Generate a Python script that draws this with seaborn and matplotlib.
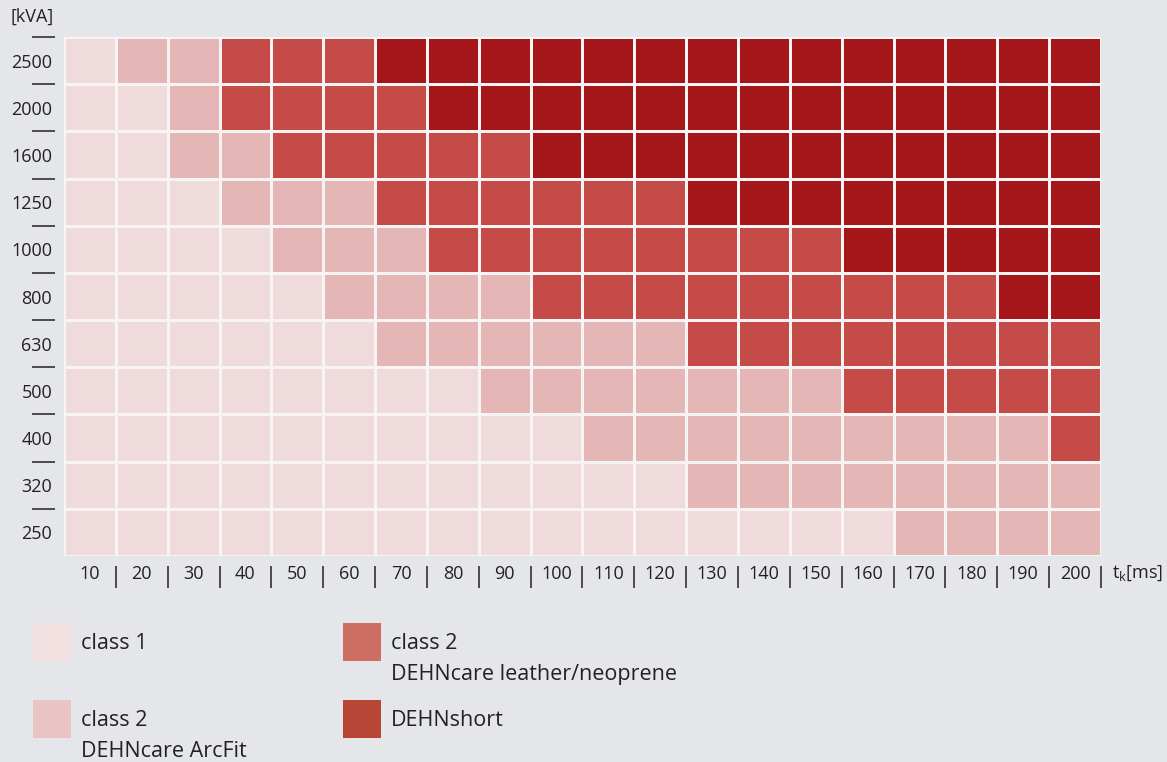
import numpy as np
import pandas as pd
import matplotlib
matplotlib.use("Agg")
import matplotlib.pyplot as plt
from matplotlib.colors import ListedColormap
from matplotlib.patches import Rectangle
import seaborn as sns

# time in ms (columns) and transformer power in kVA (rows, top to bottom)
times = [10, 20, 30, 40, 50, 60, 70, 80, 90, 100,
         110, 120, 130, 140, 150, 160, 170, 180, 190, 200]
power = ["2500", "2000", "1600", "1250", "1000", "800", "630", "500", "400", "320", "250"]

# 0 = class 1, 1 = class 2 ArcFit, 2 = class 2 leather/neoprene, 3 = DEHNshort
r2500 = [0, 1, 1, 2, 2, 2, 3, 3, 3, 3, 3, 3, 3, 3, 3, 3, 3, 3, 3, 3]
r2000 = [0, 0, 1, 2, 2, 2, 2, 3, 3, 3, 3, 3, 3, 3, 3, 3, 3, 3, 3, 3]
r1600 = [0, 0, 1, 1, 2, 2, 2, 2, 2, 3, 3, 3, 3, 3, 3, 3, 3, 3, 3, 3]
r1250 = [0, 0, 0, 1, 1, 1, 2, 2, 2, 2, 2, 2, 3, 3, 3, 3, 3, 3, 3, 3]
r1000 = [0, 0, 0, 0, 1, 1, 1, 2, 2, 2, 2, 2, 2, 2, 2, 3, 3, 3, 3, 3]
r800 = [0, 0, 0, 0, 0, 1, 1, 1, 1, 2, 2, 2, 2, 2, 2, 2, 2, 2, 3, 3]
r630 = [0, 0, 0, 0, 0, 0, 1, 1, 1, 1, 1, 1, 2, 2, 2, 2, 2, 2, 2, 2]
r500 = [0, 0, 0, 0, 0, 0, 0, 0, 1, 1, 1, 1, 1, 1, 1, 2, 2, 2, 2, 2]
r400 = [0, 0, 0, 0, 0, 0, 0, 0, 0, 0, 1, 1, 1, 1, 1, 1, 1, 1, 1, 2]
r320 = [0, 0, 0, 0, 0, 0, 0, 0, 0, 0, 0, 0, 1, 1, 1, 1, 1, 1, 1, 1]
r250 = [0, 0, 0, 0, 0, 0, 0, 0, 0, 0, 0, 0, 0, 0, 0, 0, 1, 1, 1, 1]

classes = ["class 1", "class 2\nDEHNcare ArcFit",
           "class 2\nDEHNcare leather/neoprene", "DEHNshort"]
cell_colors = ["#f0dbdc", "#e4b6b6", "#c44b48", "#a5161b"]
legend_colors = ["#f2dfe0", "#eac4c5", "#cc6e62", "#b84536"]

df = pd.DataFrame([r2500, r2000, r1600, r1250, r1000, r800, r630, r500, r400, r320, r250],
                  index=power, columns=times)

bg = "#e5e6ea"
ink = "#222222"
plt.rcParams['font.family'] = ['Open Sans', 'DejaVu Sans']

fig = plt.figure(figsize=(11.67, 7.62), dpi=100, facecolor=bg)
ax = fig.add_axes([0.0548, 0.2703, 0.8886, 0.6811])
ax.set_facecolor(bg)

sns.heatmap(df, ax=ax, cmap=ListedColormap(cell_colors), vmin=-0.5, vmax=3.5,
            cbar=False, linewidths=1.0, linecolor="#f8f4f4")

# labels at cell centres, dashes/bars on the cell borders
ax.set_xticks(np.arange(len(times)) + 0.5)
ax.set_xticklabels([str(t) for t in times])
ax.set_xticks(np.arange(1, len(times) + 1), minor=True)
ax.set_yticks(np.arange(len(power)) + 0.5)
ax.set_yticklabels(power, rotation=0)
ax.set_yticks(np.arange(0, len(power)), minor=True)

for sp in ax.spines.values():
    sp.set_visible(False)
ax.spines['left'].set_position(('outward', 6.5))
ax.spines['bottom'].set_position(('outward', 7))

ax.tick_params(axis='both', which='major', length=0, labelsize=13, labelcolor=ink)
ax.tick_params(axis='y', which='major', pad=2)
ax.tick_params(axis='x', which='major', pad=-0.5)
ax.tick_params(axis='y', which='minor', length=16.5, width=1.1, color=ink, direction='out')
ax.tick_params(axis='x', which='minor', length=16, width=1.1, color=ink, direction='out')
ax.set_xlabel("")
ax.set_ylabel("")

fig.text(10 / 1167, 1 - 17 / 762, "[kVA]", fontsize=13, color=ink, va='center', ha='left')
fig.text(1112 / 1167, 1 - 573 / 762, r"t$_\mathregular{k}$[ms]", fontsize=13, color=ink,
         va='center', ha='left')

# legend as coloured squares with text
W, H = 1167, 762
spots = [(33, 623, 81), (33, 700, 81), (343, 623, 391), (343, 700, 391)]
for (x0, y0, tx), col, lab in zip(spots, legend_colors, classes):
    fig.patches.append(Rectangle((x0 / W, 1 - (y0 + 38) / H), 38 / W, 38 / H,
                                 transform=fig.transFigure, facecolor=col, edgecolor='none'))
    fig.text(tx / W, 1 - (y0 + 10) / H, lab, fontsize=15.5, color=ink, va='top', ha='left',
             linespacing=1.65)

fig.savefig("out.png", dpi=100, facecolor=bg)
